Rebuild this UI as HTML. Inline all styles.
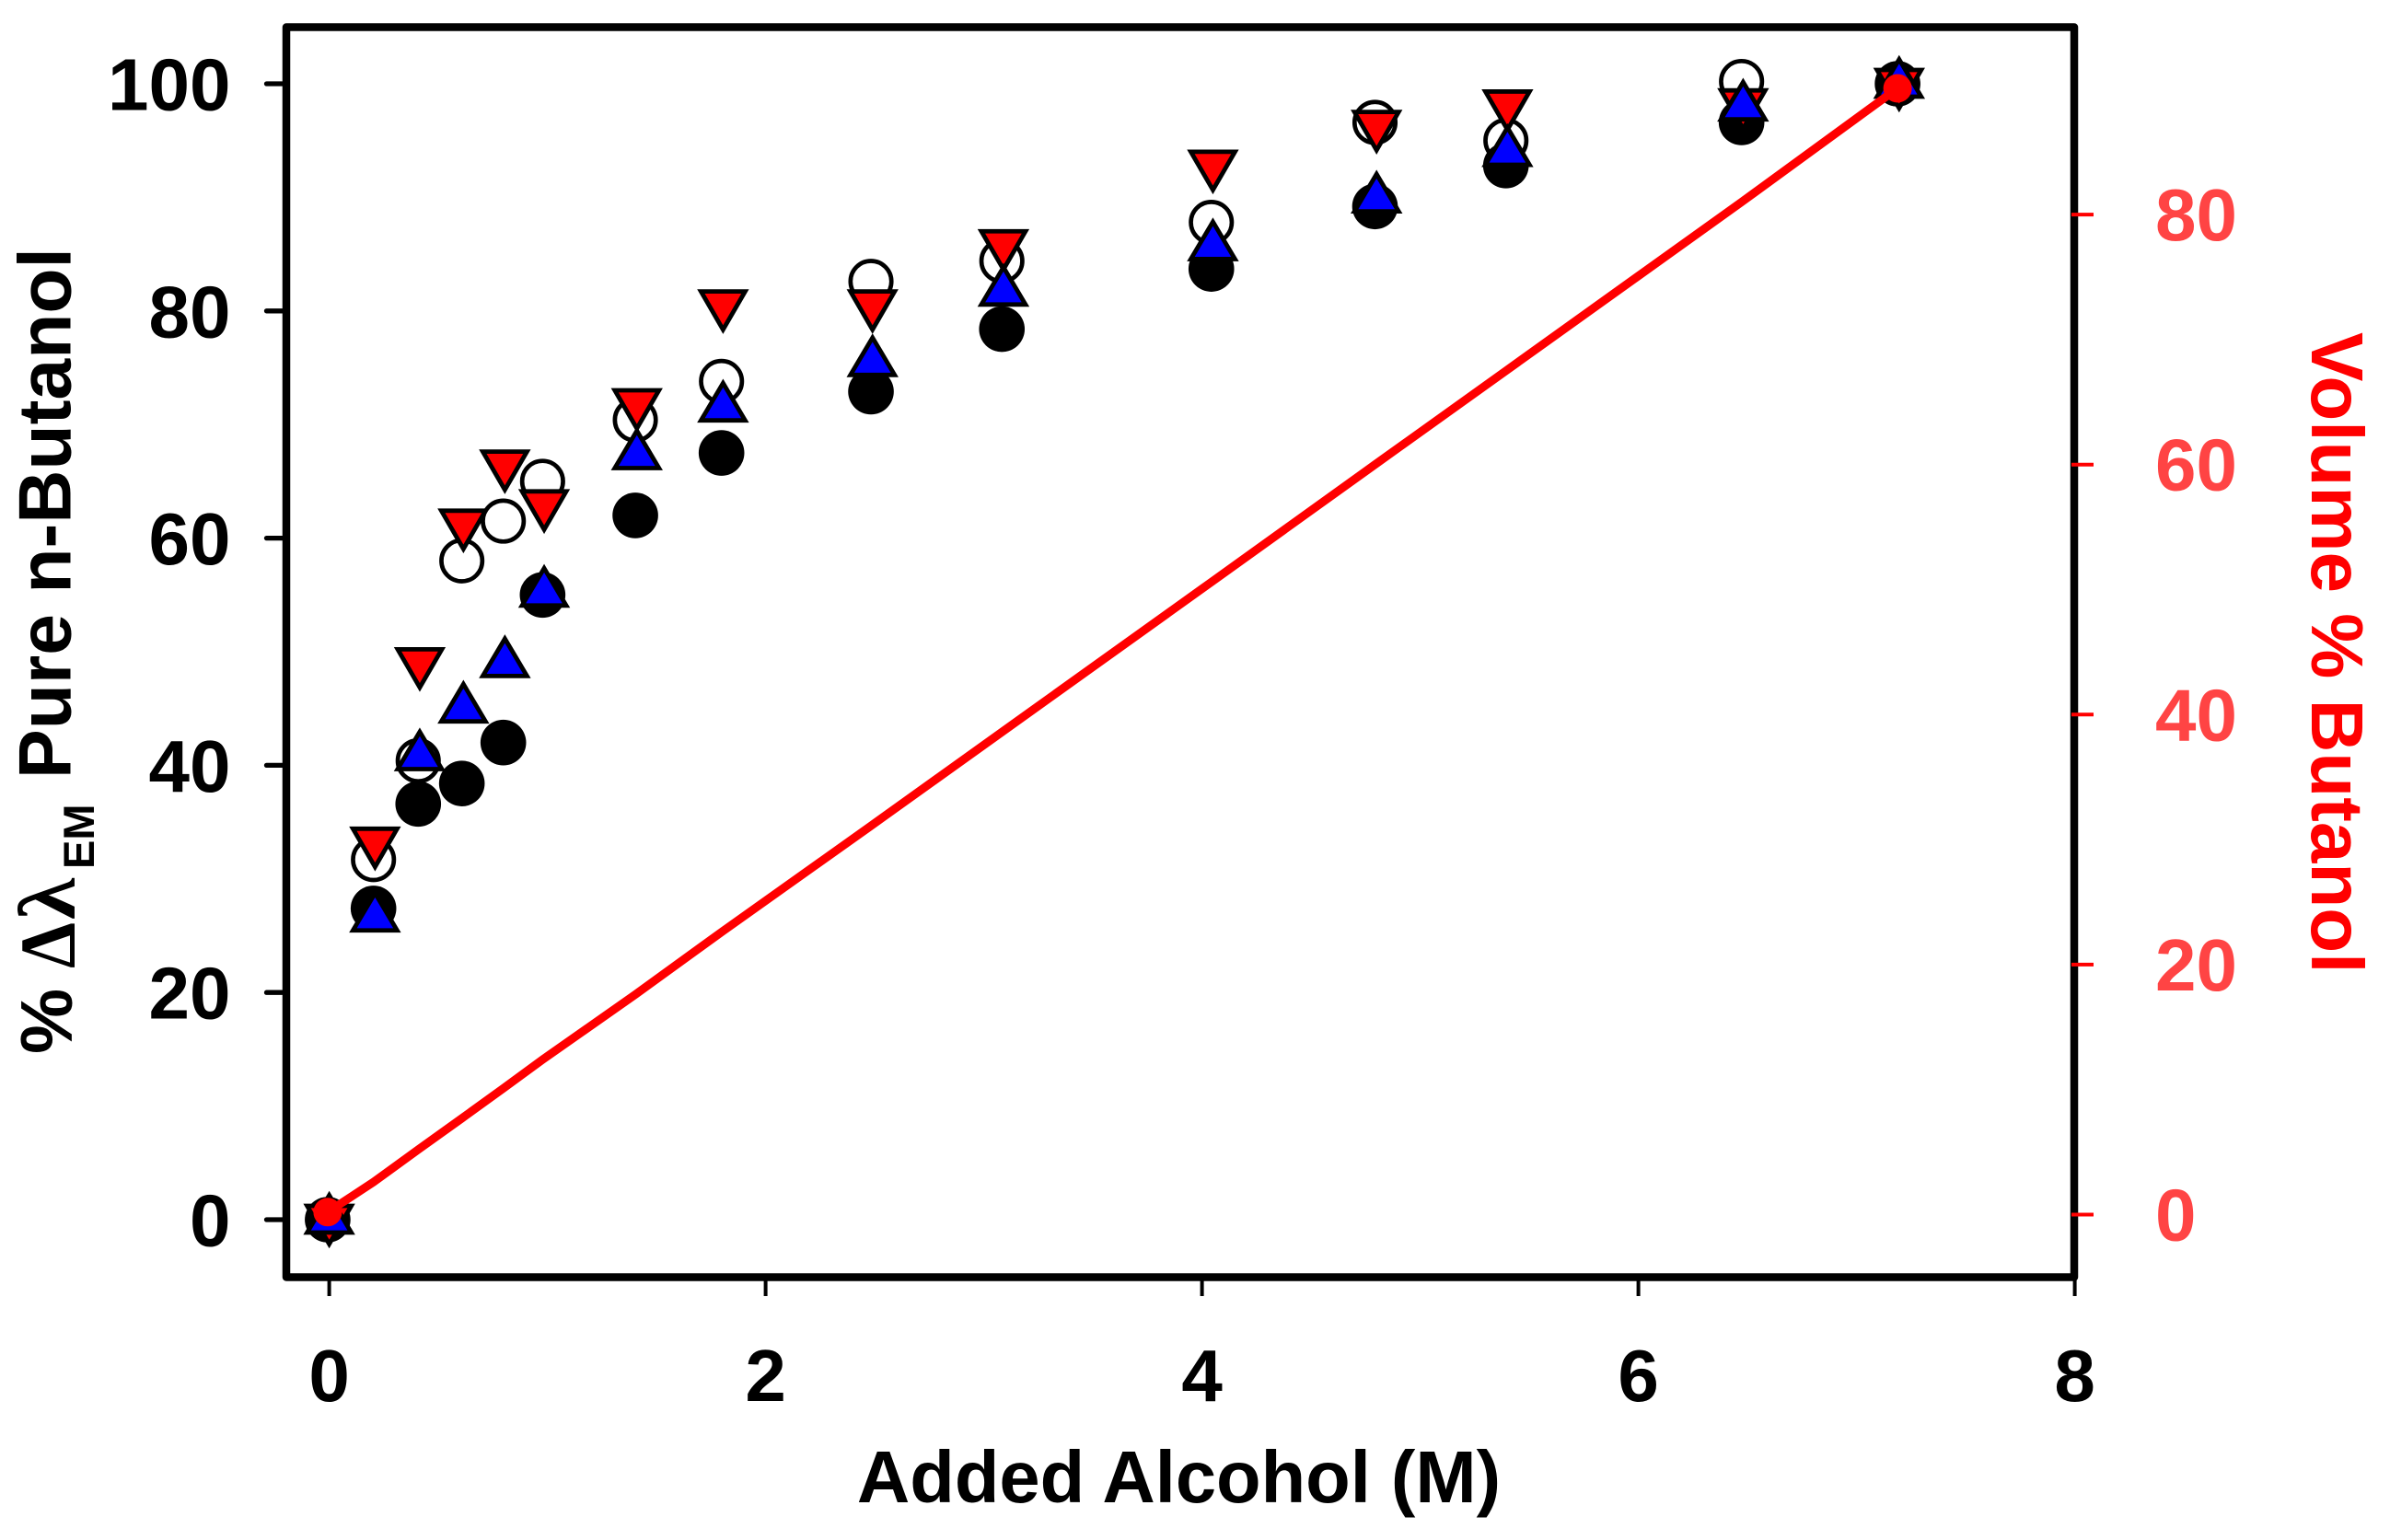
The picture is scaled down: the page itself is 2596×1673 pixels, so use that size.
<!DOCTYPE html>
<html lang="en">
<head>
<meta charset="utf-8">
<title>Added Alcohol vs. Percent Shift and Volume Percent Butanol</title>
<style>
  html, body { margin: 0; padding: 0; background: #fff; }
  svg { display: block; position: absolute; left: 0; top: 0; }
  text { font-family: "Liberation Sans", Arial, sans-serif; font-weight: bold; }
  .greek { font-family: "Liberation Serif", "DejaVu Serif", serif; }
</style>
</head>
<body>
<svg id="chart" xmlns="http://www.w3.org/2000/svg" width="2596" height="1673" viewBox="0 0 2596 1673">
  <rect x="0" y="0" width="2596" height="1673" fill="#ffffff"/>
  <g id="series-layer"></g>
  <rect id="frame" x="311" y="29.5" width="1942" height="1358" fill="none" stroke="#000" stroke-width="8.5" stroke-linejoin="round"/>
  <g id="axis-layer"></g>
  <text x="1280.5" y="1632" font-size="79.5" text-anchor="middle" fill="#000">Added Alcohol (M)</text>
  <g fill="#000">
    <text transform="translate(78,1145) rotate(-90)" font-size="80">%</text>
    <text class="greek" transform="translate(81,1052) rotate(-90)" font-size="86" textLength="50" lengthAdjust="spacingAndGlyphs">Δ</text>
    <text class="greek" transform="translate(81,999) rotate(-90)" font-size="88" textLength="45" lengthAdjust="spacingAndGlyphs">λ</text>
    <text transform="translate(102,944) rotate(-90)" font-size="47">EM</text>
    <text transform="translate(76.5,846) rotate(-90)" font-size="80.5">Pure n-Butanol</text>
  </g>
  <text transform="translate(2511,361) rotate(90)" font-size="80" fill="#ff0000">Volume % Butanol</text>
</svg>
<script>
// Shared x categories: added alcohol concentration (M)
const addedAlcohol = [0, 0.21, 0.415, 0.615, 0.805, 0.985, 1.41, 1.805, 2.49, 3.09, 4.05, 4.80, 5.40, 6.48, 7.195];

// Left-axis series: % shift relative to pure n-butanol
const filledCircleValues = [0, 27.4, 36.6, 38.4, 42, 55, 62, 67.5, 72.9, 78.4, 83.7, 89.2, 92.8, 96.6, 100];
const openCircleValues = [0, 31.7, 40.4, 58, 61.5, 65, 70.4, 73.8, 82.6, 84.4, 87.8, 96.6, 95, 100.2, 100];
const blueTriangleValues = [0, 26.6, 40.8, 45, 49, 55.2, 67.3, 71.5, 75.5, 81.7, 85.7, 89.9, 94, 98, 100];
const redTriangleValues = [0, 33.2, 49, 61.2, 66.4, 62.9, 71.8, 80.5, 80.5, 85.8, 92.8, 96.3, 98.1, 98.2, 100];

// Right-axis series: volume % butanol
const volumePercentValues = [0.2, 2.6, 5.2, 7.7, 10.1, 12.4, 17.6, 22.6, 31.1, 38.6, 50.6, 60, 67.5, 81, 90.1];

// Axis ticks
const xTicks = [0, 2, 4, 6, 8];
const leftTicks = [0, 20, 40, 60, 80, 100];
const rightTicks = [0, 20, 40, 60, 80];

const SVG_NS = 'http://www.w3.org/2000/svg';
function xScale(v) { return 357.6 + 237 * v; }
function yLeft(v) { return 1325 - 12.34 * v; }
function yRight(v) { return 1319.5 - 13.58 * v; }

const seriesLayer = document.getElementById('series-layer');
const axisLayer = document.getElementById('axis-layer');

function make(tag, attrs, parent) {
  const el = document.createElementNS(SVG_NS, tag);
  for (const k in attrs) el.setAttribute(k, attrs[k]);
  parent.appendChild(el);
  return el;
}

// Open circles
addedAlcohol.forEach(function (x, i) {
  const el = make('circle', { cx: xScale(x) - 1.7, cy: yLeft(openCircleValues[i]), r: 22.2, fill: '#fff', stroke: '#000', 'stroke-width': 4.7 }, seriesLayer);
  
  
});

// Filled black circles
addedAlcohol.forEach(function (x, i) {
  const el = make('circle', { cx: xScale(x) - 1.7, cy: yLeft(filledCircleValues[i]), r: 24.8, fill: '#000' }, seriesLayer);
  
  
});

function upTriangle(cx, cy) {
  return cx + ',' + (cy - 26.5) + ' ' + (cx - 24) + ',' + (cy + 14) + ' ' + (cx + 24) + ',' + (cy + 14);
}
function downTriangle(cx, cy) {
  return cx + ',' + (cy + 26.5) + ' ' + (cx - 24) + ',' + (cy - 15) + ' ' + (cx + 24) + ',' + (cy - 15);
}

// Red down triangles
addedAlcohol.forEach(function (x, i) {
  const el = make('polygon', { points: downTriangle(xScale(x), yLeft(redTriangleValues[i])), fill: '#ff0000', stroke: '#000', 'stroke-width': 4.8, 'stroke-linejoin': 'miter', 'stroke-miterlimit': 10 }, seriesLayer);
  
  
});

// Blue up triangles
addedAlcohol.forEach(function (x, i) {
  const el = make('polygon', { points: upTriangle(xScale(x), yLeft(blueTriangleValues[i])), fill: '#0000ff', stroke: '#000', 'stroke-width': 4.8, 'stroke-linejoin': 'miter', 'stroke-miterlimit': 10 }, seriesLayer);
  
  
});

// Volume % line
const volumeLine = make('polyline', {
  points: addedAlcohol.map(function (x, i) { return (xScale(x) - 1.7) + ',' + yRight(volumePercentValues[i]); }).join(' '),
  fill: 'none', stroke: '#ff0000', 'stroke-width': 9
}, seriesLayer);



// Volume % end markers at the first and last samples
[0, addedAlcohol.length - 1].forEach(function (i) {
  const el = make('circle', { cx: xScale(addedAlcohol[i]) - 1.7, cy: yRight(volumePercentValues[i]), r: 15.5, fill: '#ff0000' }, seriesLayer);
  
  
});

// X axis ticks and labels
xTicks.forEach(function (v) {
  const tick = make('line', { x1: xScale(v), x2: xScale(v), y1: 1390, y2: 1408, stroke: '#000', 'stroke-width': 4 }, axisLayer);
  
  
  const label = make('text', { x: xScale(v), y: 1522, 'font-size': 80, 'text-anchor': 'middle', fill: '#000' }, axisLayer);
  
  
  label.textContent = String(v);
});

// Left axis ticks and labels
leftTicks.forEach(function (v) {
  const tick = make('line', { x1: 289.5, x2: 310, y1: yLeft(v), y2: yLeft(v), stroke: '#000', 'stroke-width': 5.3, 'stroke-linecap': 'round' }, axisLayer);
  
  
  const label = make('text', { x: 250.5, y: yLeft(v) + 28.5, 'font-size': 80, 'text-anchor': 'end', fill: '#000' }, axisLayer);
  
  
  label.textContent = String(v);
});

// Right axis ticks and labels
rightTicks.forEach(function (v) {
  const tick = make('line', { x1: 2250, x2: 2274, y1: yRight(v), y2: yRight(v), stroke: '#ff0000', 'stroke-width': 4 }, axisLayer);
  
  
  const label = make('text', { x: 2341, y: yRight(v) + 28, 'font-size': 80, 'text-anchor': 'start', fill: '#ff4444' }, axisLayer);
  
  
  label.textContent = String(v);
});
</script>
</body>
</html>
